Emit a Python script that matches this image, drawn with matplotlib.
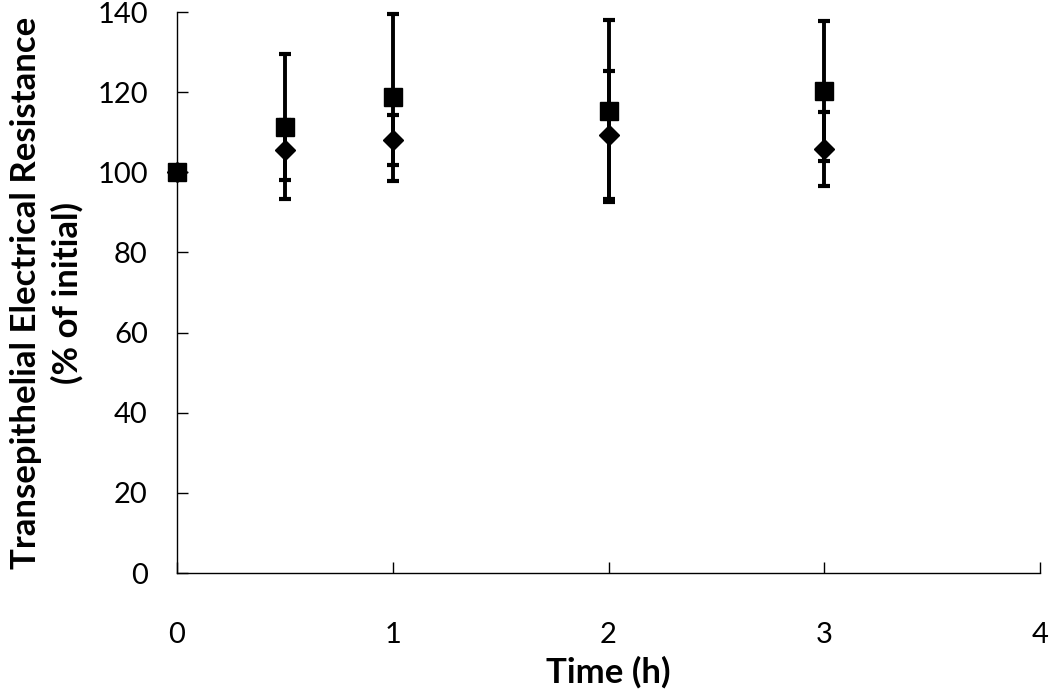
import matplotlib.pyplot as plt

plt.rcParams['font.family'] = ['Lato', 'DejaVu Sans']

time_h = [0, 0.5, 1, 2, 3]

square_mean = [100, 111.4, 118.7, 115.3, 120.3]
square_err = [0, 18.1, 20.8, 22.6, 17.4]

diamond_mean = [100, 105.6, 108.1, 109.3, 105.8]
diamond_err = [0, 7.5, 6.2, 16.0, 9.3]


def main():
    fig = plt.figure(figsize=(10.5, 6.95), dpi=100)
    ax = fig.add_axes([0.1686, 0.1755, 0.8219, 0.8072])

    err_style = dict(ecolor='black', elinewidth=2.8, capsize=4.5, capthick=3.0,
                     color='black', linestyle='none', clip_on=False)
    ax.errorbar(time_h, diamond_mean, yerr=diamond_err, marker='D', markersize=10, **err_style)
    ax.errorbar(time_h, square_mean, yerr=square_err, marker='s', markersize=13, **err_style)

    ax.set_xlim(0, 4)
    ax.set_ylim(0, 140)
    ax.set_xticks([0, 1, 2, 3, 4])
    ax.set_yticks(range(0, 141, 20))

    for side in ['top', 'right']:
        ax.spines[side].set_visible(False)
    for side in ['left', 'bottom']:
        ax.spines[side].set_linewidth(1.0)

    ax.tick_params(axis='y', direction='in', length=8, width=1.0, pad=21, labelsize=21)
    ax.tick_params(axis='x', direction='in', length=8, width=1.0, pad=35, labelsize=21)

    ax.set_xlabel("Time (h)", fontsize=25, fontweight='bold')
    ax.set_ylabel("Transepithelial Electrical Resistance\n(% of initial)", fontsize=25,
                  fontweight='bold', linespacing=1.35)
    ax.xaxis.set_label_coords(0.5, -0.148)
    ax.yaxis.set_label_coords(-0.108, 0.5)

    fig.savefig("out.png", dpi=100)


if __name__ == '__main__':
    main()
